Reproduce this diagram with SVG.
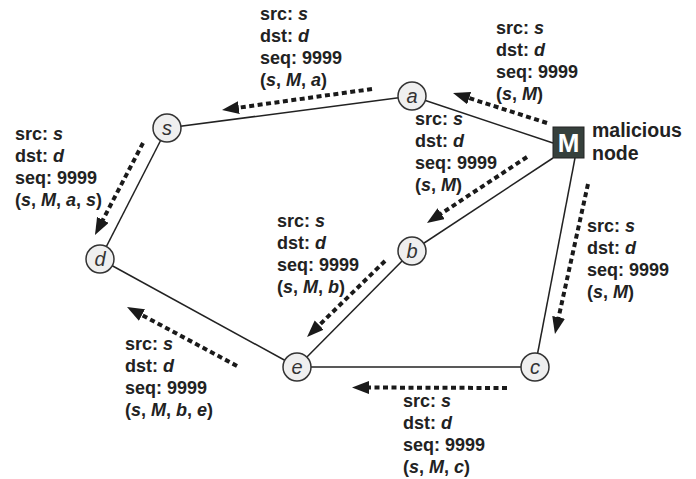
<svg xmlns="http://www.w3.org/2000/svg" width="696" height="479" viewBox="0 0 696 479">
<style>
.edge{stroke:#222;stroke-width:1.5;fill:none}
.msg{stroke:#1a1a1a;stroke-width:4;stroke-dasharray:5 3.5;fill:none;marker-end:url(#ah)}
.node circle{fill:#efefef;stroke:#333;stroke-width:1.5}
.nl{font-family:"Liberation Sans",Arial,sans-serif;font-size:20px;font-style:italic;fill:#333;text-anchor:middle}
.lbl{font-family:"Liberation Sans",Arial,sans-serif;font-size:18px;font-weight:bold;fill:#222}
.i{font-style:italic}
</style>
<defs>
<marker id="ah" markerUnits="userSpaceOnUse" markerWidth="18" markerHeight="14" refX="7" refY="6.5" orient="auto">
<path d="M0,0 L17,6.5 L0,13 z" fill="#1a1a1a"/>
</marker>
</defs>
<g id="connectors">
<line class="edge" x1="167" y1="128" x2="412" y2="96"/>
<line class="edge" x1="412" y1="96" x2="553" y2="143"/>
<line class="edge" x1="167" y1="128" x2="100" y2="259"/>
<line class="edge" x1="100" y1="259" x2="297" y2="367"/>
<line class="edge" x1="297" y1="367" x2="535" y2="367"/>
<line class="edge" x1="553" y1="158" x2="412" y2="251"/>
<line class="edge" x1="412" y1="251" x2="297" y2="367"/>
<line class="edge" x1="575" y1="158" x2="535" y2="367"/>
<line class="msg" x1="547" y1="123" x2="462.5" y2="96"/>
<line class="msg" x1="372" y1="89" x2="231.9" y2="108.6"/>
<line class="msg" x1="527" y1="157" x2="435.3" y2="217.5"/>
<line class="msg" x1="143" y1="143" x2="99.6" y2="226.1"/>
<line class="msg" x1="385" y1="261" x2="314.2" y2="330"/>
<line class="msg" x1="588" y1="184" x2="557.1" y2="324.2"/>
<line class="msg" x1="237" y1="366" x2="135.8" y2="311.7"/>
<line class="msg" x1="507" y1="388" x2="362" y2="387.5"/>
</g>
<g id="node-s" class="node"><circle cx="167" cy="128" r="14"/><text class="nl" x="167" y="135">s</text></g>
<g id="node-a" class="node"><circle cx="412" cy="96" r="14"/><text class="nl" x="412" y="103">a</text></g>
<g id="node-d" class="node"><circle cx="100" cy="259" r="14"/><text class="nl" x="100" y="266">d</text></g>
<g id="node-b" class="node"><circle cx="412" cy="251" r="14"/><text class="nl" x="412" y="258">b</text></g>
<g id="node-e" class="node"><circle cx="297" cy="367" r="14"/><text class="nl" x="297" y="374">e</text></g>
<g id="node-c" class="node"><circle cx="535" cy="367" r="14"/><text class="nl" x="535" y="374">c</text></g>
<g id="node-M">
<rect x="553" y="127" width="31" height="31" fill="#36403c" stroke="#222" stroke-width="1"/>
<text x="568.5" y="152" font-family="'Liberation Sans',Arial,sans-serif" font-size="26" font-weight="bold" fill="#fff" text-anchor="middle">M</text>
<text class="lbl" x="592" y="137" style="font-size:19.5px">malicious</text>
<text class="lbl" x="592" y="160" style="font-size:19.5px">node</text>
</g>
<g id="labels">
<text class="lbl" x="260"><tspan x="260" y="20">src: <tspan class="i">s</tspan></tspan><tspan x="260" y="42">dst: <tspan class="i">d</tspan></tspan><tspan x="260" y="64">seq: 9999</tspan><tspan x="260" y="86">(<tspan class="i">s</tspan>, <tspan class="i">M</tspan>, <tspan class="i">a</tspan>)</tspan></text>
<text class="lbl"><tspan x="496" y="34">src: <tspan class="i">s</tspan></tspan><tspan x="496" y="56">dst: <tspan class="i">d</tspan></tspan><tspan x="496" y="78">seq: 9999</tspan><tspan x="496" y="100">(<tspan class="i">s</tspan>, <tspan class="i">M</tspan>)</tspan></text>
<text class="lbl"><tspan x="415" y="125">src: <tspan class="i">s</tspan></tspan><tspan x="415" y="147">dst: <tspan class="i">d</tspan></tspan><tspan x="415" y="169">seq: 9999</tspan><tspan x="415" y="191">(<tspan class="i">s</tspan>, <tspan class="i">M</tspan>)</tspan></text>
<text class="lbl"><tspan x="15" y="140">src: <tspan class="i">s</tspan></tspan><tspan x="15" y="162">dst: <tspan class="i">d</tspan></tspan><tspan x="15" y="184">seq: 9999</tspan><tspan x="15" y="206">(<tspan class="i">s</tspan>, <tspan class="i">M</tspan>, <tspan class="i">a</tspan>, <tspan class="i">s</tspan>)</tspan></text>
<text class="lbl"><tspan x="277" y="227">src: <tspan class="i">s</tspan></tspan><tspan x="277" y="249">dst: <tspan class="i">d</tspan></tspan><tspan x="277" y="271">seq: 9999</tspan><tspan x="277" y="293">(<tspan class="i">s</tspan>, <tspan class="i">M</tspan>, <tspan class="i">b</tspan>)</tspan></text>
<text class="lbl"><tspan x="587" y="232">src: <tspan class="i">s</tspan></tspan><tspan x="587" y="254">dst: <tspan class="i">d</tspan></tspan><tspan x="587" y="276">seq: 9999</tspan><tspan x="587" y="298">(<tspan class="i">s</tspan>, <tspan class="i">M</tspan>)</tspan></text>
<text class="lbl"><tspan x="125" y="350">src: <tspan class="i">s</tspan></tspan><tspan x="125" y="372">dst: <tspan class="i">d</tspan></tspan><tspan x="125" y="394">seq: 9999</tspan><tspan x="125" y="416">(<tspan class="i">s</tspan>, <tspan class="i">M</tspan>, <tspan class="i">b</tspan>, <tspan class="i">e</tspan>)</tspan></text>
<text class="lbl"><tspan x="403" y="407">src: <tspan class="i">s</tspan></tspan><tspan x="403" y="429">dst: <tspan class="i">d</tspan></tspan><tspan x="403" y="451">seq: 9999</tspan><tspan x="403" y="473">(<tspan class="i">s</tspan>, <tspan class="i">M</tspan>, <tspan class="i">c</tspan>)</tspan></text>
</g>
</svg>
